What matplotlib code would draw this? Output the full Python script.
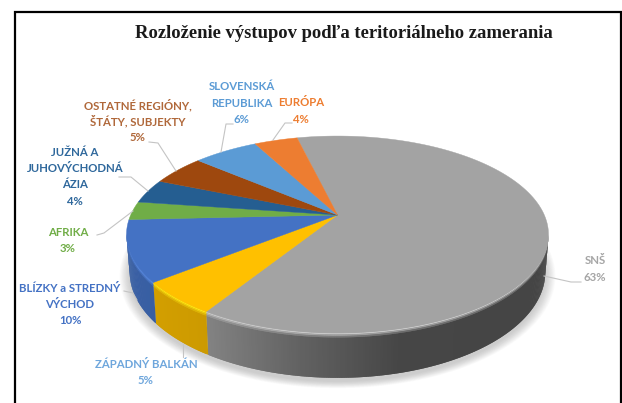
import numpy as np
import matplotlib
matplotlib.use("Agg")
import matplotlib.pyplot as plt
from matplotlib.colors import to_rgb
from matplotlib.patches import Polygon, Rectangle

# data, clockwise from the grey slice
title = "Rozloženie výstupov podľa teritoriálneho zamerania"
regions = ["SNŠ", "ZÁPADNÝ BALKÁN", "BLÍZKY a STREDNÝ\nVÝCHOD", "AFRIKA",
           "JUŽNÁ A\nJUHOVÝCHODNÁ\nÁZIA", "OSTATNÉ REGIÓNY,\nŠTÁTY, SUBJEKTY",
           "SLOVENSKÁ\nREPUBLIKA", "EURÓPA"]
shares = [62.6, 5.4, 10, 3, 4, 5, 6, 4]
colors = ["#a3a3a3", "#ffc000", "#4472c4", "#70ad47",
          "#255e91", "#9e480e", "#5b9bd5", "#ed7d31"]
label_colors = ["#a5a5a5", "#6ea6dc", "#4472c4", "#70ad47",
                "#2f689c", "#b0683a", "#5b9bd5", "#ed7d31"]
# centre x, y of first line
label_pos = [(595, 261), (146, 364), (70, 288), (68, 232),
             (75, 152), (138, 105), (242, 87), (301, 103)]
leaders = [[(581, 282), (571, 282), (544, 276)],
           [(182.5, 357), (182.5, 344)],
           [(124, 291), (133, 293), (137, 300)],
           [(97, 235), (104, 233), (133, 211)],
           [(119, 177), (131, 177), (148, 191)],
           [(149, 142), (158, 143), (176, 171)],
           [(233, 124), (226, 124), (221, 152)],
           [(292, 123), (285, 123), (273, 140)]]

# perspective disc
cx, cy = 337.5, 215
a, b, k = 206.8, 94.6, 0.198
depth = 36
taper = 0.015
start = -13.5
line_h = 16.4


def project(theta, drop=0.0):
    """theta in degrees clockwise from the back of the disc."""
    t = np.radians(theta)
    x = np.sin(t) * (1 - taper * drop / depth)
    y = np.cos(t)
    w = 1 + k * y
    return cx + a * x / w, cy - b * y / w + drop / w


def wall_shade(x):
    return np.interp(x, [127, 207, 300, 400, 549], [0.84, 0.80, 0.60, 0.43, 0.42])


def rim(t1, t2):
    n = max(int(abs(t2 - t1) * 2), 2)
    return np.linspace(t1, t2, n)


def quad(t1, t2, d1, d2):
    x1, y1 = project(t1, drop=d1)
    x2, y2 = project(t2, drop=d1)
    x3, y3 = project(t2, drop=d2)
    x4, y4 = project(t1, drop=d2)
    return [(x1, y1), (x2, y2), (x3, y3), (x4, y4)]


fig = plt.figure(figsize=(6.22, 4.03), dpi=100)
ax = fig.add_axes([0, 0, 1, 1])
ax.set_xlim(0, 622)
ax.set_ylim(403, 0)
ax.axis("off")

ax.add_patch(Rectangle((15, 11.5), 606, 420, fc="white", ec="black", lw=1.6, zorder=0))

# soft shadow under the pie
th = np.linspace(0, 360, 240)
for g in np.linspace(1.05, 1.0, 14):
    sx, sy = project(th, drop=depth + 3)
    sx = cx + (sx - cx) * g
    sy = 250 + (sy - 250) * g
    ax.fill(sx, sy, color="#808080", alpha=0.03, lw=0, zorder=1)

edges = start + np.cumsum([0] + shares) * 3.6
step = 0.5

# outer wall, only the part that faces the viewer
for i, c in enumerate(colors):
    base = np.array(to_rgb(c))
    ts = rim(edges[i], edges[i + 1])
    for t1, t2 in zip(ts[:-1], ts[1:]):
        if np.cos(np.radians((t1 + t2) / 2)) > -k:
            continue
        t_over = min(t2 + step, edges[i + 1])
        x_mid = project((t1 + t2) / 2)[0]
        f = wall_shade(x_mid)
        col = base * f
        ax.add_patch(Polygon(quad(t1, t_over, 0, depth), fc=col, ec="none", zorder=2))
        # light bevel along the rim, fading into the wall
        hi = np.clip(base * 1.1 + 0.08, 0, 1)
        for d1, d2, m in [(0, 1.2, 1.0), (1.2, 2.4, 0.65), (2.4, 3.6, 0.3)]:
            ax.add_patch(Polygon(quad(t1, t_over, d1, d2),
                                 fc=hi * m + col * (1 - m), ec="none", zorder=3))

# top face
for i, c in enumerate(colors):
    ts = rim(edges[i], edges[i + 1])
    xs, ys = project(ts)
    ax.add_patch(Polygon(np.column_stack([np.r_[cx, xs], np.r_[cy, ys]]),
                         fc=c, ec=c, lw=0.3, zorder=4))

# leaders and labels
for pts in leaders:
    xs, ys = zip(*pts)
    ax.plot(xs, ys, color="#c4c4c4", lw=0.8, zorder=5)

for name, share, col, (lx, ly) in zip(regions, shares, label_colors, label_pos):
    lines = name.split("\n") + [f"{share:.0f}%"]
    for j, s in enumerate(lines):
        ax.text(lx, ly + j * line_h, s, color=col, fontsize=8.2, fontweight="bold",
                family="Lato", ha="center", va="center", zorder=6)

ax.text(344, 34, title, fontsize=13.4, fontweight="bold", family="Liberation Serif",
        color="#1a1a1a", ha="center", va="center", zorder=6)

fig.savefig("out.png", dpi=100)
